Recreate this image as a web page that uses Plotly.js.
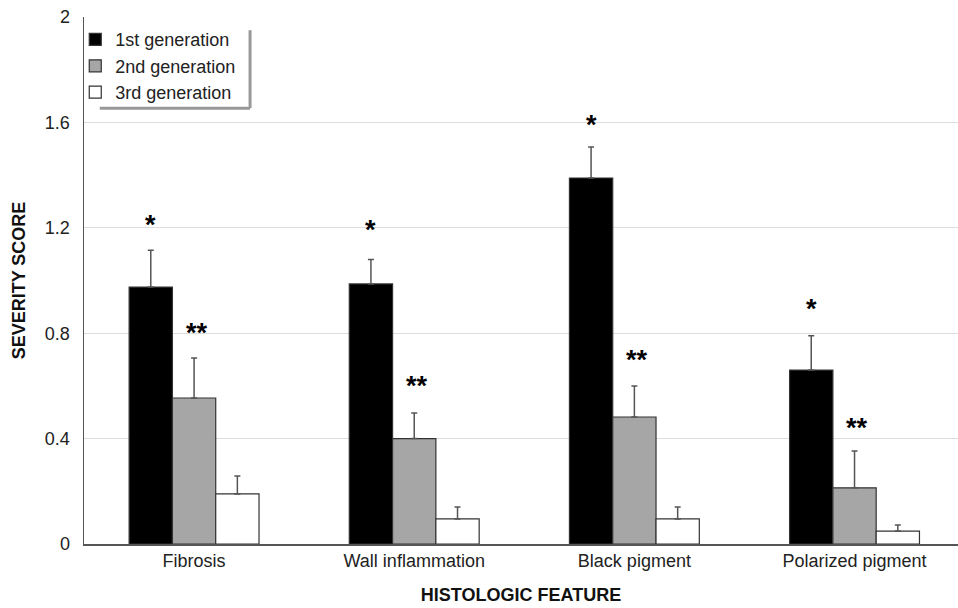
<!DOCTYPE html>
<html>
<head>
<meta charset="utf-8">
<script src="https://cdn.plot.ly/plotly-3.0.1.min.js"></script>
<style>html,body{margin:0;padding:0;background:#fff;}#chart{width:958px;height:608px;}</style>
</head>
<body>
<div id="chart"></div>
<script>
var categories = ["Fibrosis", "Wall inflammation", "Black pigment", "Polarized pigment"];
var seriesNames = ["1st generation", "2nd generation", "3rd generation"];
var gen1 = [0.975, 0.987, 1.389, 0.660];
var gen1Top = [1.115, 1.080, 1.507, 0.790];
var gen2 = [0.554, 0.400, 0.482, 0.213];
var gen2Top = [0.706, 0.497, 0.600, 0.353];
var gen3 = [0.190, 0.095, 0.095, 0.049];
var gen3Top = [0.258, 0.140, 0.140, 0.072];
var star1Y = [1.21, 1.19, 1.59, 0.89];
var star2Y = [0.80, 0.60, 0.70, 0.44];
var yTicks = [0, 0.4, 0.8, 1.2, 1.6, 2];
var yTickLabels = ["0", "0.4", "0.8", "1.2", "1.6", "2"];

var FONT = "Liberation Sans, Arial, Helvetica, sans-serif";
var bargap = 0.41;
var bw = (1 - bargap) / 3;

function diff(top, v) { return top.map(function (t, i) { return t - v[i]; }); }
function zeros(n) { var a = []; for (var i = 0; i < n; i++) a.push(0); return a; }

function mk(name, vals, tops, fill) {
  return {
    type: "bar", name: name, x: categories, y: vals,
    marker: { color: fill, line: { color: "#333333", width: 1.2 } },
    error_y: { type: "data", symmetric: false, array: diff(tops, vals), arrayminus: zeros(vals.length),
      color: "#555555", thickness: 1.5, width: 3 }
  };
}

var data = [
  mk(seriesNames[0], gen1, gen1Top, "#000000"),
  mk(seriesNames[1], gen2, gen2Top, "#a6a6a6"),
  mk(seriesNames[2], gen3, gen3Top, "#ffffff")
];

var annotations = [];
for (var i = 0; i < categories.length; i++) {
  annotations.push({ x: i - bw, y: star1Y[i], xref: "x", yref: "y", text: "<b>*</b>", showarrow: false,
    font: { family: FONT, size: 27, color: "#000" }, yanchor: "middle" });
  annotations.push({ x: i + 0.012, y: star2Y[i], xref: "x", yref: "y", text: "<b>**</b>", showarrow: false,
    font: { family: FONT, size: 27, color: "#000" }, yanchor: "middle" });
}

var layout = {
  width: 958, height: 608,
  margin: { l: 84, r: 0, t: 17, b: 64, pad: 0 },
  paper_bgcolor: "#ffffff", plot_bgcolor: "#ffffff",
  font: { family: FONT, size: 18, color: "#222" },
  barmode: "group", bargap: bargap, bargroupgap: 0,
  showlegend: true,
  legend: { x: -0.01, y: 0.992, xanchor: "left", yanchor: "top", bgcolor: "rgba(0,0,0,0)",
    font: { family: FONT, size: 18, color: "#222" }, tracegroupgap: 0, traceorder: "normal" },
  xaxis: {
    type: "category", range: [-0.5, 3.47], showgrid: false, showline: true, linecolor: "#555", linewidth: 1.5,
    ticks: "", tickfont: { family: FONT, size: 18, color: "#222" },
    title: { text: "<b>HISTOLOGIC FEATURE</b>", font: { family: FONT, size: 18, color: "#111" }, standoff: 18 }
  },
  yaxis: {
    range: [0, 2], tickvals: yTicks, ticktext: yTickLabels, showgrid: true, gridcolor: "#dddddd", gridwidth: 1,
    showline: true, linecolor: "#555", linewidth: 1.5, ticks: "", zeroline: false,
    tickfont: { family: FONT, size: 18, color: "#222" }, ticklabelstandoff: 9,
    title: { text: "<b>SEVERITY SCORE</b>", font: { family: FONT, size: 18, color: "#111" }, standoff: 14 }
  },
  annotations: annotations,
  shapes: [
    { type: "line", xref: "paper", yref: "paper", x0: 0.19, x1: 0.19, y0: 0.827, y1: 0.975, line: { color: "#999", width: 3 } },
    { type: "line", xref: "paper", yref: "paper", x0: 0.018, x1: 0.19, y0: 0.827, y1: 0.827, line: { color: "#999", width: 3 } }
  ]
};

Plotly.newPlot("chart", data, layout, { staticPlot: true, displayModeBar: false });
</script>
</body>
</html>
